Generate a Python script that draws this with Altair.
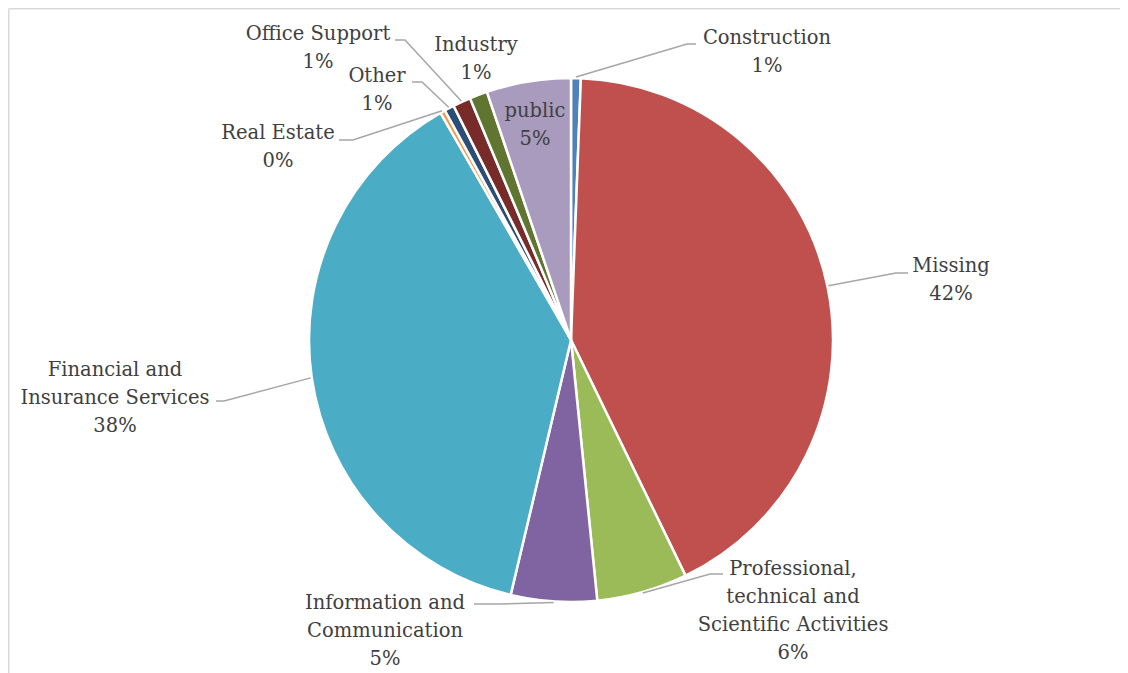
import math
import altair as alt
import pandas as pd

# ---- data ----
categories = [
    "Construction", "Missing", "Professional, technical and Scientific Activities",
    "Information and Communication", "Financial and Insurance Services",
    "Real Estate", "Other", "Office Support", "Industry", "public",
]
label_text = [
    "Construction", "Missing", "Professional,\ntechnical and\nScientific Activities",
    "Information and\nCommunication", "Financial and\nInsurance Services",
    "Real Estate", "Other", "Office Support", "Industry", "public",
]
shares = [0.6, 42.2, 5.6, 5.3, 38.0, 0.3, 0.6, 1.1, 1.1, 5.2]
colors = ["#4F81BD", "#C0504D", "#9BBB59", "#8064A2", "#4BACC6",
          "#F79646", "#2C4D75", "#772C2A", "#5F7530", "#A99BBD"]

# ---- layout (page pixel space) ----
OX, OY = 8, 8              # page offset of the view origin (8px margin, no padding)
PCX, PCY, R = 571, 340, 262
CX, CY = PCX - OX, PCY - OY
LINE_H = 28

# label block centre per category (page coords)
label_pos = {
    "Construction": (767, 52),
    "Missing": (951, 280),
    "Professional, technical and Scientific Activities": (793, 611),
    "Information and Communication": (385, 631),
    "Financial and Insurance Services": (115, 398),
    "Real Estate": (278, 147),
    "Other": (377, 90),
    "Office Support": (318, 48),
    "Industry": (476, 59),
    "public": (535, 125),
}
# leader elbow and end per category (page coords)
leader_pts = {
    "Construction": [(687, 44), (696, 44)],
    "Missing": [(896, 273), (908, 273)],
    "Professional, technical and Scientific Activities": [(710, 574), (723, 574)],
    "Information and Communication": [(500, 604), (474, 604)],
    "Financial and Insurance Services": [(224, 401), (216, 401)],
    "Real Estate": [(353, 140), (339, 140)],
    "Other": [(422, 82), (412, 82)],
    "Office Support": [(405, 40), (395, 40)],
}

total = sum(shares)
rows = []
for i, (c, v, t) in enumerate(zip(categories, shares, label_text)):
    pct = f"{round(v / total * 100)}%"
    text = t + "\n" + pct
    n = text.count("\n") + 1
    lx, ly = label_pos[c]
    rows.append({"idx": i, "category": c, "share": v, "label": text,
                 "lx": lx - OX, "ly": ly - OY - (n - 1) * LINE_H / 2})
df = pd.DataFrame(rows)

# leader lines: start at slice mid-angle on the rim
lead_rows = []
cum = 0.0
for c, v in zip(categories, shares):
    mid = (cum + v / 2) / total * 2 * math.pi
    cum += v
    if c not in leader_pts:
        continue
    sx = CX + (R + 1) * math.sin(mid)
    sy = CY - (R + 1) * math.cos(mid)
    pts = [(sx, sy)] + [(px - OX, py - OY) for px, py in leader_pts[c]]
    for k, (px, py) in enumerate(pts):
        lead_rows.append({"category": c, "pt": k, "x": px, "y": py})
lead_df = pd.DataFrame(lead_rows)

W, H = 1112, 665

pie = alt.Chart(df).mark_arc(outerRadius=R, stroke="white", strokeWidth=2.5).encode(
    theta=alt.Theta("share:Q", stack=True),
    order=alt.Order("idx:Q", sort="ascending"),
    color=alt.Color("category:N", scale=alt.Scale(domain=categories, range=colors), legend=None),
    x=alt.value(CX),
    y=alt.value(CY),
)

labels = alt.Chart(df).mark_text(
    font="DejaVu Serif", fontSize=19.5, color="#404040", lineHeight=LINE_H,
    align="center", baseline="middle", lineBreak="\n",
).encode(
    x=alt.X("lx:Q", scale=None, axis=None),
    y=alt.Y("ly:Q", scale=None, axis=None),
    text="label:N",
)

leaders = alt.Chart(lead_df).mark_line(color="#A6A6A6", strokeWidth=1.5).encode(
    x=alt.X("x:Q", scale=None, axis=None),
    y=alt.Y("y:Q", scale=None, axis=None),
    detail="category:N",
    order="pt:Q",
)

frame_df = pd.DataFrame({"a": [0]})
frame_top = alt.Chart(frame_df).mark_rule(color="#D9D9D9", strokeWidth=1.5).encode(
    x=alt.value(0.75), x2=alt.value(W), y=alt.value(0.75)
)
frame_left = alt.Chart(frame_df).mark_rule(color="#D9D9D9", strokeWidth=1.5).encode(
    x=alt.value(0.75), y=alt.value(0.75), y2=alt.value(H)
)

chart = alt.layer(frame_top, frame_left, pie, leaders, labels).properties(
    width=W, height=H,
    padding=0,
    autosize=alt.AutoSizeParams(type="none"),
).configure_view(stroke=None)

chart.save("out.html", embed_options={"renderer": "svg", "actions": False})
